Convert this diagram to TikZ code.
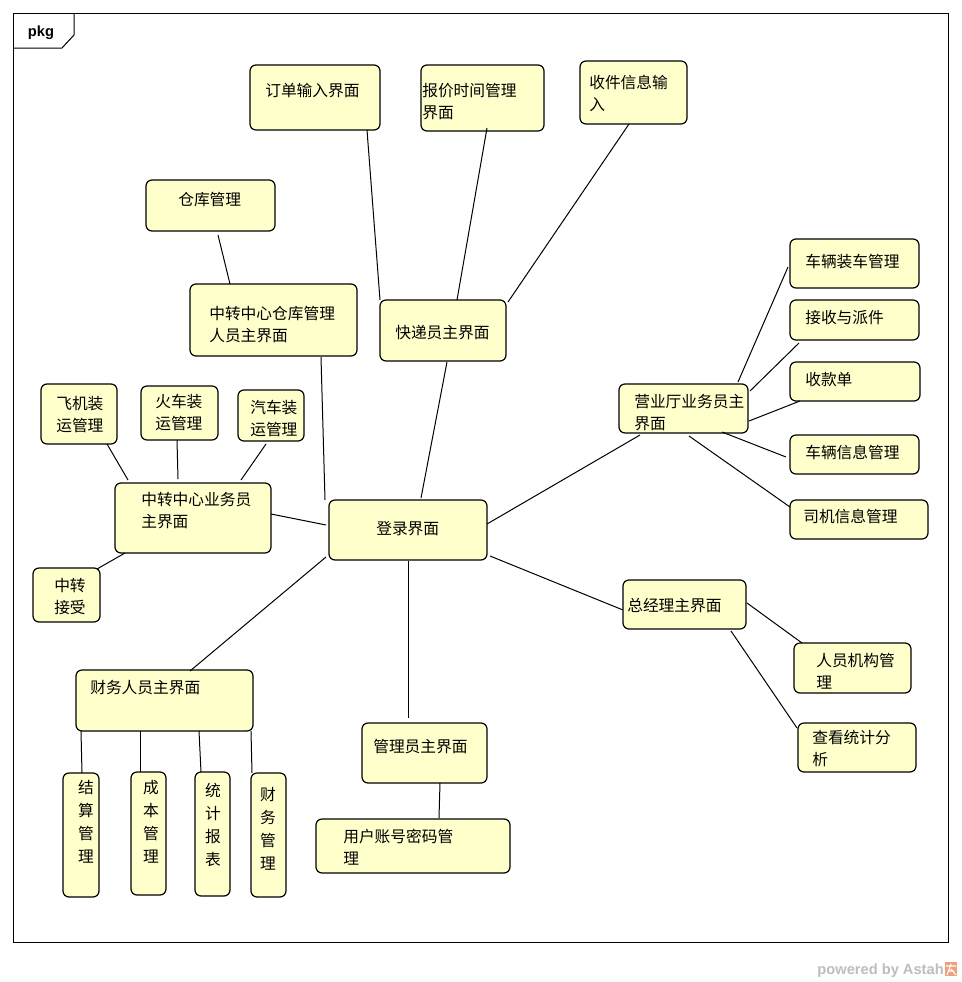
\documentclass[tikz,border=0pt]{standalone}
\usepackage{fontspec}
\newfontfamily\cjk{Noto Sans CJK SC}
\newfontfamily\uisans{Liberation Sans}
\usetikzlibrary{fit,calc}
\definecolor{boxfill}{HTML}{FFFFCC}
\definecolor{astahgray}{HTML}{BDBDBD}
\definecolor{astahorange}{HTML}{EFA07C}
\tikzset{
  box/.style={draw=black, fill=boxfill, rounded corners=4.5pt, line width=0.9pt, inner sep=0pt, outer sep=0pt},
  txt/.style={inner sep=0pt, anchor=north west, align=left, yshift=-1.5pt, font=\cjk\fontsize{11.8}{16.5}\selectfont},
  vtxt/.style={inner sep=0pt, anchor=north, align=center, yshift=-1.5pt, font=\cjk\fontsize{11.8}{17.25}\selectfont},
  link/.style={draw=black, line width=0.75pt},
}
\begin{document}
\begin{tikzpicture}[x=0.75pt, y=-0.75pt]
\useasboundingbox (0,0) rectangle (961,982);
\fill[white] (0,0) rectangle (961,982);

% package frame with its tab
\draw[line width=0.75pt] (13,13) rectangle (948,942);
\draw[line width=0.75pt] (13,48) -- (62,48) -- (74,35) -- (74,13);
\node[inner sep=0pt, font=\uisans\bfseries\fontsize{11}{13}\selectfont] (pkg) at (41,33) {pkg};

% boxes
\node[box, fit={(250,65) (380,130)}] (dd) {};
\node[box, fit={(421,65) (544,131)}] (bj) {};
\node[box, fit={(580,61) (687,124)}] (sj) {};
\node[box, fit={(146,180) (275,231)}] (ck) {};
\node[box, fit={(190,284) (357,356)}] (zc) {};
\node[box, fit={(380,300) (506,361)}] (kd) {};
\node[box, fit={(41,384) (117,444)}] (fj) {};
\node[box, fit={(141,386) (218,440)}] (hc) {};
\node[box, fit={(238,390) (304,441)}] (qc) {};
\node[box, fit={(115,483) (271,553)}] (zy) {};
\node[box, fit={(33,568) (100,622)}] (js) {};
\node[box, fit={(329,500) (487,560)}] (dl) {};
\node[box, fit={(619,384) (748,433)}] (yy) {};
\node[box, fit={(790,239) (919,288)}] (zcgl) {};
\node[box, fit={(790,300) (919,340)}] (jp) {};
\node[box, fit={(790,362) (920,401)}] (sk) {};
\node[box, fit={(790,435) (919,474)}] (clxx) {};
\node[box, fit={(790,500) (928,539)}] (sjxx) {};
\node[box, fit={(623,580) (746,629)}] (zj) {};
\node[box, fit={(794,643) (911,693)}] (ry) {};
\node[box, fit={(798,723) (916,772)}] (tjfx) {};
\node[box, fit={(76,670) (253,731)}] (cw) {};
\node[box, fit={(362,723) (487,783)}] (gl) {};
\node[box, fit={(316,819) (510,873)}] (yh) {};
\node[box, fit={(63,773) (99,897)}] (jsgl) {};
\node[box, fit={(131,772) (166,895)}] (cbgl) {};
\node[box, fit={(195,772) (230,896)}] (tjbb) {};
\node[box, fit={(251,773) (286,897)}] (cwgl) {};

% labels
\node[txt] (dd-t) at (265,81) {订单输入界面};
\node[txt] (bj-t) at (422,81) {报价时间管理\\界面};
\node[txt] (sj-t) at (589,73) {收件信息输\\入};
\node[txt] (ck-t) at (178,190) {仓库管理};
\node[txt] (zc-t) at (209,304) {中转中心仓库管理\\人员主界面};
\node[txt] (kd-t) at (395,323) {快递员主界面};
\node[txt] (fj-t) at (56,394) {飞机装\\运管理};
\node[txt] (hc-t) at (155,392) {火车装\\运管理};
\node[txt] (qc-t) at (250,398) {汽车装\\运管理};
\node[txt] (zy-t) at (141,490) {中转中心业务员\\主界面};
\node[txt] (js-t) at (54,576) {中转\\接受};
\node[txt] (dl-t) at (376,519) {登录界面};
\node[txt] (yy-t) at (634,392) {营业厅业务员主\\界面};
\node[txt] (zcgl-t) at (805,252) {车辆装车管理};
\node[txt] (jp-t) at (805,308) {接收与派件};
\node[txt] (sk-t) at (805,370) {收款单};
\node[txt] (clxx-t) at (805,443) {车辆信息管理};
\node[txt] (sjxx-t) at (803,507) {司机信息管理};
\node[txt] (zj-t) at (627,596) {总经理主界面};
\node[txt] (ry-t) at (816,651) {人员机构管\\理};
\node[txt] (tjfx-t) at (812,728) {查看统计分\\析};
\node[txt] (cw-t) at (90,678) {财务人员主界面};
\node[txt] (gl-t) at (373,737) {管理员主界面};
\node[txt] (yh-t) at (343,827) {用户账号密码管\\理};
\node[vtxt] (jsgl-t) at (86,778) {结\\算\\管\\理};
\node[vtxt] (cbgl-t) at (151,778) {成\\本\\管\\理};
\node[vtxt] (tjbb-t) at (213,781) {统\\计\\报\\表};
\node[vtxt] (cwgl-t) at (268,785) {财\\务\\管\\理};

% connectors
\draw[link] ($(ck.north west)+(72,55)$) -- ($(zc.north west)+(40,0)$);
\draw[link] ($(dd.north west)+(117,65)$) -- ($(kd.north west)+(0,0)$);
\draw[link] ($(bj.north west)+(66,63)$) -- ($(kd.north west)+(77,0)$);
\draw[link] ($(sj.north west)+(49,63)$) -- ($(kd.north west)+(128,2)$);
\draw[link] ($(kd.north west)+(67,62)$) -- ($(dl.north west)+(92,-2)$);
\draw[link] ($(zc.north west)+(131,73)$) -- ($(dl.north west)+(-4,0)$);
\draw[link] ($(fj.north west)+(66,60)$) -- ($(zy.north west)+(13,-3)$);
\draw[link] ($(hc.north west)+(36,54)$) -- ($(zy.north west)+(63,-4)$);
\draw[link] ($(qc.north west)+(28,54)$) -- ($(zy.north west)+(126,-3)$);
\draw[link] ($(zy.north west)+(156,31)$) -- ($(dl.north west)+(-3,25)$);
\draw[link] ($(js.north west)+(64,1)$) -- ($(zy.north west)+(10,70)$);
\draw[link] ($(dl.north west)+(-3,57)$) -- ($(cw.north west)+(114,1)$);
\draw[link] ($(dl.north west)+(79,61)$) -- ($(gl.north west)+(46,-5)$);
\draw[link] ($(gl.north west)+(78,60)$) -- ($(yh.north west)+(123,-1)$);
\draw[link] ($(dl.north west)+(158,24)$) -- ($(yy.north west)+(21,51)$);
\draw[link] ($(dl.north west)+(161,56)$) -- ($(zj.north west)+(0,30)$);
\draw[link] ($(yy.north west)+(119,-2)$) -- ($(zcgl.north west)+(-2,28)$);
\draw[link] ($(yy.north west)+(131,7)$) -- ($(jp.north west)+(9,43)$);
\draw[link] ($(yy.north west)+(130,37)$) -- ($(sk.north west)+(10,39)$);
\draw[link] ($(yy.north west)+(103,48)$) -- ($(clxx.north west)+(-4,22)$);
\draw[link] ($(yy.north west)+(70,52)$) -- ($(sjxx.north west)+(0,7)$);
\draw[link] ($(zj.north west)+(124,23)$) -- ($(ry.north west)+(8,0)$);
\draw[link] ($(zj.north west)+(108,51)$) -- ($(tjfx.north west)+(-1,5)$);
\draw[link] ($(cw.north west)+(5,61)$) -- ($(jsgl.north west)+(19,0)$);
\draw[link] ($(cw.north west)+(64,61)$) -- ($(cbgl.north west)+(9,0)$);
\draw[link] ($(cw.north west)+(123,61)$) -- ($(tjbb.north west)+(6,0)$);
\draw[link] ($(cw.north west)+(175,61)$) -- ($(cwgl.north west)+(1,0)$);

% tool credit
\node[inner sep=0pt, anchor=base east, text=astahgray, font=\uisans\bfseries\fontsize{11}{13}\selectfont] (credit) at (944,974) {powered by Astah};
\fill[astahorange] (945,962) rectangle (957,976);
\draw[white, line width=0.8pt] (946,966) -- (956,966) (951,964) -- (947,975) (951,969) -- (956,975) (948,971) -- (954,971);
\end{tikzpicture}
\end{document}
